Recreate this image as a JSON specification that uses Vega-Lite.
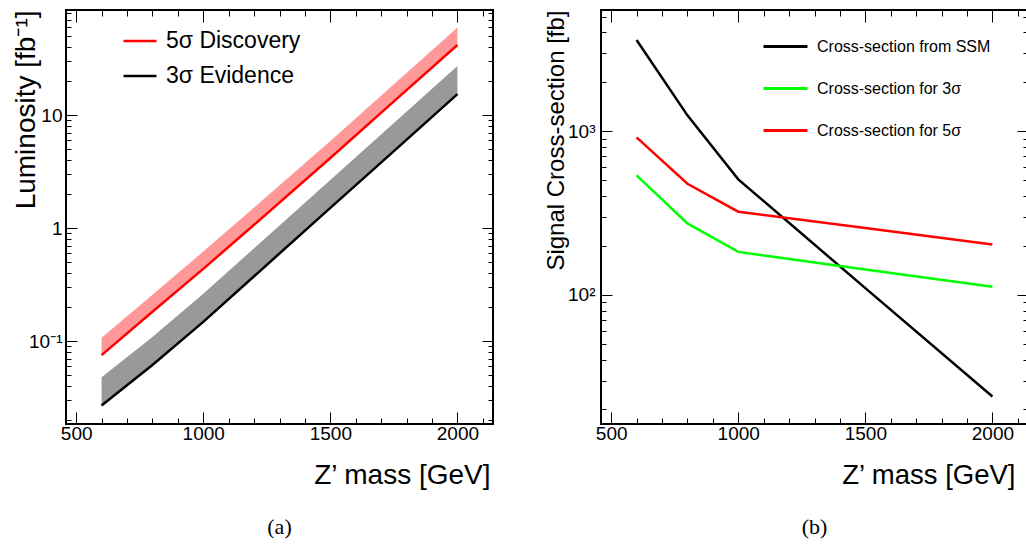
{
  "$schema": "https://vega.github.io/schema/vega-lite/v6.json",
  "padding": {"left": 11, "top": 8, "right": 2, "bottom": 0},
  "spacing": 48,
  "background": "white",
  "config": {
    "view": {"stroke": "black", "strokeWidth": 2},
    "axis": {"grid": false, "domain": false, "tickColor": "black", "tickWidth": 1, "labelColor": "black", "titleColor": "black", "labelFont": "Liberation Sans", "titleFont": "Liberation Sans", "titleFontWeight": "normal", "labelFontSize": 19, "labelFlush": false, "labelOverlap": false},
    "title": {"font": "Liberation Serif", "fontSize": 22, "fontWeight": "normal", "color": "black"}
  },
  "resolve": {"scale": {"stroke": "independent"}, "legend": {"stroke": "independent"}},
  "hconcat": [
    {
      "width": 427,
      "height": 414,
      "title": {"text": "(a)", "orient": "bottom", "anchor": "middle", "offset": 28},
      "data": {"values": [
        {"mass": 600, "series": "5σ Discovery", "lum": 0.0753, "up": 0.107},
        {"mass": 800, "series": "5σ Discovery", "lum": 0.182, "up": 0.258},
        {"mass": 1000, "series": "5σ Discovery", "lum": 0.436, "up": 0.62},
        {"mass": 1200, "series": "5σ Discovery", "lum": 1.07, "up": 1.52},
        {"mass": 1500, "series": "5σ Discovery", "lum": 4.17, "up": 5.9},
        {"mass": 1750, "series": "5σ Discovery", "lum": 13.2, "up": 18.7},
        {"mass": 2000, "series": "5σ Discovery", "lum": 41.7, "up": 59.4},
        {"mass": 600, "series": "3σ Evidence", "lum": 0.027, "up": 0.048},
        {"mass": 800, "series": "3σ Evidence", "lum": 0.0615, "up": 0.109},
        {"mass": 1000, "series": "3σ Evidence", "lum": 0.148, "up": 0.262},
        {"mass": 1200, "series": "3σ Evidence", "lum": 0.375, "up": 0.664},
        {"mass": 1500, "series": "3σ Evidence", "lum": 1.51, "up": 2.67},
        {"mass": 1750, "series": "3σ Evidence", "lum": 4.8, "up": 8.5},
        {"mass": 2000, "series": "3σ Evidence", "lum": 15.3, "up": 27.1}
      ]},
      "layer": [
        {
          "layer": [
            {
              "mark": {"type": "area", "opacity": 0.4},
              "encoding": {
                "x": {"field": "mass", "type": "quantitative", "scale": {"type": "linear", "domain": [460, 2140], "nice": false, "zero": false},
                  "axis": {"orient": "bottom", "values": [500, 1000, 1500, 2000], "format": "d", "tickSize": -12, "labelPadding": 12, "title": "Z’ mass [GeV]", "titleFontSize": 28, "titleAnchor": "end", "titleAlign": "right", "titleX": 424, "titlePadding": 18}},
                "y": {"field": "lum", "type": "quantitative", "scale": {"type": "log", "domain": [0.0185, 85], "nice": false},
                  "axis": {"orient": "left", "values": [0.1, 1, 10], "labelExpr": "datum.value === 0.1 ? '10⁻¹' : datum.value === 1 ? '1' : '10'", "tickSize": -11, "labelPadding": 15, "title": "Luminosity [fb⁻¹]", "titleFontSize": 28, "titleAnchor": "end", "titlePadding": -12}},
                "y2": {"field": "up"},
                "fill": {"field": "series", "type": "nominal", "scale": {"domain": ["5σ Discovery", "3σ Evidence"], "range": ["#ff0000", "#000000"]}, "legend": null}
              }
            },
            {
              "mark": {"type": "line", "strokeWidth": 2.5},
              "encoding": {
                "x": {"field": "mass", "type": "quantitative", "scale": {"type": "linear", "domain": [460, 2140], "nice": false, "zero": false},
                  "axis": {"orient": "bottom", "values": [500, 1000, 1500, 2000], "format": "d", "tickSize": -12, "labelPadding": 12, "title": "Z’ mass [GeV]", "titleFontSize": 28, "titleAnchor": "end", "titleAlign": "right", "titleX": 424, "titlePadding": 18}},
                "y": {"field": "lum", "type": "quantitative", "scale": {"type": "log", "domain": [0.0185, 85], "nice": false},
                  "axis": {"orient": "left", "values": [0.1, 1, 10], "labelExpr": "datum.value === 0.1 ? '10⁻¹' : datum.value === 1 ? '1' : '10'", "tickSize": -11, "labelPadding": 15, "title": "Luminosity [fb⁻¹]", "titleFontSize": 28, "titleAnchor": "end", "titlePadding": -12}},
                "stroke": {"field": "series", "type": "nominal", "scale": {"domain": ["5σ Discovery", "3σ Evidence"], "range": ["#ff0000", "#000000"]},
                  "legend": {"orient": "none", "legendX": 56, "legendY": 13, "title": null, "symbolType": "stroke", "symbolSize": 1089, "symbolStrokeWidth": 2.5, "labelFontSize": 23, "labelFont": "Liberation Sans", "labelColor": "black", "labelOffset": 8, "labelLimit": 0, "rowPadding": 5, "padding": 0}}
              }
            }
          ]
        },
        {
          "mark": {"type": "point", "opacity": 0},
          "encoding": {
            "x": {"field": "mass", "type": "quantitative", "scale": {"type": "linear", "domain": [460, 2140], "nice": false, "zero": false},
              "axis": {"orient": "bottom", "values": [600,700,800,900,1100,1200,1300,1400,1600,1700,1800,1900,2100], "labels": false, "title": null, "tickSize": -6}},
            "y": {"field": "lum", "type": "quantitative", "scale": {"type": "log", "domain": [0.0185, 85], "nice": false},
              "axis": {"orient": "left", "values": [0.02,0.03,0.04,0.05,0.06,0.07,0.08,0.09,0.2,0.3,0.4,0.5,0.6,0.7,0.8,0.9,2,3,4,5,6,7,8,9,20,30,40,50,60,70,80], "labels": false, "title": null, "tickSize": -5}}
          }
        },
        {
          "mark": {"type": "point", "opacity": 0},
          "encoding": {
            "x": {"field": "mass", "type": "quantitative", "scale": {"type": "linear", "domain": [460, 2140], "nice": false, "zero": false},
              "axis": {"orient": "top", "values": [500, 1000, 1500, 2000], "labels": false, "title": null, "tickSize": -12}},
            "y": {"field": "lum", "type": "quantitative", "scale": {"type": "log", "domain": [0.0185, 85], "nice": false},
              "axis": {"orient": "right", "values": [0.1, 1, 10], "labels": false, "title": null, "tickSize": -11}}
          }
        },
        {
          "mark": {"type": "point", "opacity": 0},
          "encoding": {
            "x": {"field": "mass", "type": "quantitative", "scale": {"type": "linear", "domain": [460, 2140], "nice": false, "zero": false},
              "axis": {"orient": "top", "values": [600,700,800,900,1100,1200,1300,1400,1600,1700,1800,1900,2100], "labels": false, "title": null, "tickSize": -6}},
            "y": {"field": "lum", "type": "quantitative", "scale": {"type": "log", "domain": [0.0185, 85], "nice": false},
              "axis": {"orient": "right", "values": [0.02,0.03,0.04,0.05,0.06,0.07,0.08,0.09,0.2,0.3,0.4,0.5,0.6,0.7,0.8,0.9,2,3,4,5,6,7,8,9,20,30,40,50,60,70,80], "labels": false, "title": null, "tickSize": -5}}
          }
        }
      ],
      "resolve": {"axis": {"x": "independent", "y": "independent"}}
    },
    {
      "width": 427,
      "height": 414,
      "title": {"text": "(b)", "orient": "bottom", "anchor": "middle", "offset": 28},
      "data": {"values": [
        {"mass": 600, "series": "Cross-section from SSM", "xs": 3594},
        {"mass": 800, "series": "Cross-section from SSM", "xs": 1247},
        {"mass": 1000, "series": "Cross-section from SSM", "xs": 507},
        {"mass": 1500, "series": "Cross-section from SSM", "xs": 110},
        {"mass": 2000, "series": "Cross-section from SSM", "xs": 24},
        {"mass": 600, "series": "Cross-section for 3σ", "xs": 536},
        {"mass": 800, "series": "Cross-section for 3σ", "xs": 273},
        {"mass": 1000, "series": "Cross-section for 3σ", "xs": 183},
        {"mass": 1500, "series": "Cross-section for 3σ", "xs": 143},
        {"mass": 2000, "series": "Cross-section for 3σ", "xs": 112},
        {"mass": 600, "series": "Cross-section for 5σ", "xs": 915},
        {"mass": 800, "series": "Cross-section for 5σ", "xs": 477},
        {"mass": 1000, "series": "Cross-section for 5σ", "xs": 322},
        {"mass": 1500, "series": "Cross-section for 5σ", "xs": 256},
        {"mass": 2000, "series": "Cross-section for 5σ", "xs": 203}
      ]},
      "layer": [
        {
          "mark": {"type": "line", "strokeWidth": 2.5},
          "encoding": {
            "x": {"field": "mass", "type": "quantitative", "scale": {"type": "linear", "domain": [460, 2140], "nice": false, "zero": false},
              "axis": {"orient": "bottom", "values": [500, 1000, 1500, 2000], "format": "d", "tickSize": -12, "labelPadding": 12, "title": "Z’ mass [GeV]", "titleFontSize": 27.5, "titleAnchor": "end", "titleAlign": "right", "titleX": 414, "titlePadding": 18}},
            "y": {"field": "xs", "type": "quantitative", "scale": {"type": "log", "domain": [16.3, 5480], "nice": false},
              "axis": {"orient": "left", "values": [100, 1000], "labelExpr": "datum.value === 100 ? '10²' : '10³'", "tickSize": -11, "labelPadding": 17, "title": "Signal Cross-section [fb]", "titleFontSize": 24, "titleAnchor": "end", "titlePadding": -1}},
            "stroke": {"field": "series", "type": "nominal", "scale": {"domain": ["Cross-section from SSM", "Cross-section for 3σ", "Cross-section for 5σ"], "range": ["#000000", "#00ff00", "#ff0000"]},
              "legend": {"orient": "none", "legendX": 161, "legendY": 13, "title": null, "symbolType": "stroke", "symbolSize": 1936, "symbolStrokeWidth": 3, "labelFontSize": 16, "labelFont": "Liberation Sans", "labelColor": "black", "labelOffset": 8, "labelLimit": 0, "rowPadding": 10, "padding": 0}}
          }
        },
        {
          "mark": {"type": "point", "opacity": 0},
          "encoding": {
            "x": {"field": "mass", "type": "quantitative", "scale": {"type": "linear", "domain": [460, 2140], "nice": false, "zero": false},
              "axis": {"orient": "bottom", "values": [600,700,800,900,1100,1200,1300,1400,1600,1700,1800,1900,2100], "labels": false, "title": null, "tickSize": -6}},
            "y": {"field": "xs", "type": "quantitative", "scale": {"type": "log", "domain": [16.3, 5480], "nice": false},
              "axis": {"orient": "left", "values": [20,30,40,50,60,70,80,90,200,300,400,500,600,700,800,900,2000,3000,4000,5000], "labels": false, "title": null, "tickSize": -5}}
          }
        },
        {
          "mark": {"type": "point", "opacity": 0},
          "encoding": {
            "x": {"field": "mass", "type": "quantitative", "scale": {"type": "linear", "domain": [460, 2140], "nice": false, "zero": false},
              "axis": {"orient": "top", "values": [500, 1000, 1500, 2000], "labels": false, "title": null, "tickSize": -12}},
            "y": {"field": "xs", "type": "quantitative", "scale": {"type": "log", "domain": [16.3, 5480], "nice": false},
              "axis": {"orient": "right", "values": [100, 1000], "labels": false, "title": null, "tickSize": -11}}
          }
        },
        {
          "mark": {"type": "point", "opacity": 0},
          "encoding": {
            "x": {"field": "mass", "type": "quantitative", "scale": {"type": "linear", "domain": [460, 2140], "nice": false, "zero": false},
              "axis": {"orient": "top", "values": [600,700,800,900,1100,1200,1300,1400,1600,1700,1800,1900,2100], "labels": false, "title": null, "tickSize": -6}},
            "y": {"field": "xs", "type": "quantitative", "scale": {"type": "log", "domain": [16.3, 5480], "nice": false},
              "axis": {"orient": "right", "values": [20,30,40,50,60,70,80,90,200,300,400,500,600,700,800,900,2000,3000,4000,5000], "labels": false, "title": null, "tickSize": -5}}
          }
        }
      ],
      "resolve": {"axis": {"x": "independent", "y": "independent"}}
    }
  ]
}
